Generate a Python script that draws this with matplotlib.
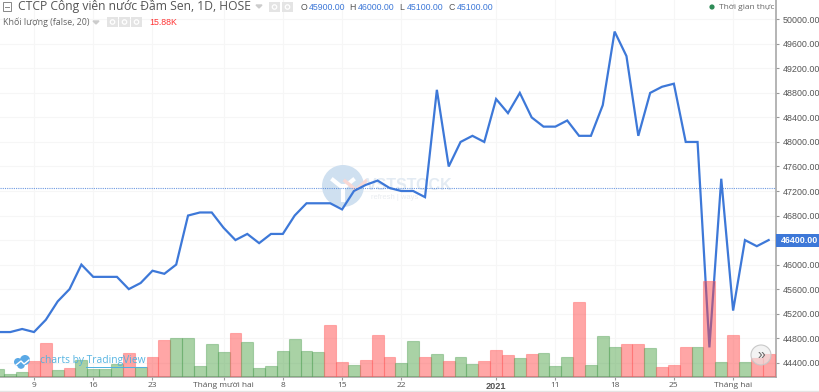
import matplotlib
matplotlib.use("Agg")
import matplotlib.pyplot as plt
from matplotlib.patches import Circle, Rectangle

# ---- data -------------------------------------------------------------
price = [44900, 44900, 44950, 44900, 45100, 45400, 45600, 46000, 45800, 45800, 45800,
         45600, 45700, 45900, 45850, 46000, 46800, 46850, 46850, 46600, 46400, 46500,
         46350, 46500, 46500, 46800, 47000, 47000, 47000, 46900, 47200, 47300, 47370,
         47250, 47200, 47200, 47100, 48850, 47600, 48000, 48100, 48000, 48700, 48470,
         48800, 48400, 48250, 48250, 48350, 48100, 48100, 48600, 49800, 49400, 48100,
         48800, 48900, 48950, 48000, 48000, 44650, 47400, 45250, 46400, 46300, 46400]
volume_k = [5.7, 1.8, 3.4, 10.6, 23.3, 5.0, 6.4, 11.8, 5.4, 5.4, 9.1,
            16.1, 7.1, 13.8, 25.4, 26.7, 26.2, 7.7, 22.6, 17.2, 30.1, 24.0,
            5.9, 7.7, 17.9, 26.0, 17.9, 17.2, 35.5, 10.0, 8.4, 11.8, 28.7,
            13.8, 9.8, 24.2, 13.8, 15.9, 11.1, 13.8, 9.1, 11.1, 18.6, 15.2,
            13.2, 15.9, 16.5, 7.7, 13.8, 51.1, 7.9, 28.1, 20.6, 22.2, 22.2,
            19.9, 7.1, 7.9, 20.6, 20.6, 64.9, 10.0, 28.3, 10.4, 13.2, 15.88]
volume_up = [0, 0, 0, 1, 1, 0, 1, 0, 0, 0, 0,
             1, 0, 1, 1, 0, 0, 0, 0, 0, 1, 0,
             0, 0, 0, 0, 0, 0, 1, 1, 0, 1, 1,
             1, 0, 0, 1, 0, 1, 0, 0, 1, 1, 1,
             0, 1, 0, 0, 0, 1, 0, 0, 0, 1, 1,
             0, 1, 1, 1, 0, 1, 0, 1, 0, 1, 1]
x_tick_index = [3, 8, 13, 19, 24, 29, 34, 42, 47, 52, 57, 62]
x_tick_labels = ["9", "16", "23", "Tháng mười hai", "8", "15", "22", "2021", "11", "18", "25", "Tháng hai"]
price_ticks = [44400, 44800, 45200, 45600, 46000, 46400, 46800, 47200, 47600, 48000,
               48400, 48800, 49200, 49600, 50000]
last_price = 46400
prev_close_line = 47250
title = "CTCP Công viên nước Đầm Sen, 1D, HOSE"
ohlc_names = ["O", "H", "L", "C"]
ohlc_values = ["45900.00", "46000.00", "45100.00", "45100.00"]
volume_title = "Khối lượng (false, 20)"
volume_last = "15.88K"

# ---- layout -----------------------------------------------------------
W, H = 820, 392
PLOT_R, PLOT_B = 776, 377
BLUE = "#3d78d8"
GRID = "#f6f6f6"
TXT = "#555555"
HEAD = "Open Sans"
NUM = "Liberation Sans"

fig = plt.figure(figsize=(W / 100, H / 100), dpi=100, facecolor="white")
rect = [0, 1 - PLOT_B / H, PLOT_R / W, PLOT_B / H]

def px_axes(z):
    a = fig.add_axes([0, 0, 1, 1], zorder=z)
    a.set_xlim(0, W); a.set_ylim(H, 0); a.axis("off")
    a.patch.set_alpha(0)
    return a

xlim = (0.131, 65.62)
ylim = (44167, 50315)
vlim = (0, 255.6)
xs = list(range(len(price)))

# background: grid and watermark
ax_bg = fig.add_axes(rect, zorder=0)
ax_bg.set_xlim(*xlim); ax_bg.set_ylim(*ylim)
ax_bg.set_xticks(x_tick_index); ax_bg.set_yticks(price_ticks)
ax_bg.grid(True, color=GRID, lw=0.8)
ax_bg.tick_params(length=0, labelbottom=False, labelleft=False)
for s in ax_bg.spines.values():
    s.set_visible(False)

ax_wm = px_axes(0.5)
ax_wm.add_patch(Circle((343, 186), 21, fc="#cfe0f0", ec="none"))
ax_wm.plot([333, 343, 353], [180, 188, 180], color="white", lw=3)
ax_wm.plot([343, 343], [186, 200], color="white", lw=3)
ax_wm.plot([345, 356, 366], [181, 190, 181], color="#f8d8d4", lw=2.5)
ax_wm.text(366, 185, "VSTSTOCK", fontsize=11.5, fontweight="bold", color="#e3ebf3",
           family=NUM, va="center", ha="left")
ax_wm.text(371, 197, "refresh | ways", fontsize=5.5, color="#e9ecf0",
           family=NUM, va="center", ha="left")

# price axes
ax = fig.add_axes(rect, zorder=1)
ax.patch.set_alpha(0)
ax.plot(xs, price, color=BLUE, lw=1.6, solid_joinstyle="miter")
ax.axhline(prev_close_line, color=BLUE, lw=0.8, ls=(0, (1, 1)), alpha=0.75)
ax.set_xlim(*xlim); ax.set_ylim(*ylim)
ax.yaxis.tick_right()
ax.set_yticks(price_ticks)
ax.set_yticklabels(["" if v == last_price else f"{v:.2f}" for v in price_ticks],
                   family=NUM, fontsize=6.4, color=TXT)
ax.set_xticks(x_tick_index)
labels = ax.set_xticklabels(x_tick_labels, family=HEAD, fontsize=6.0, color=TXT)
labels[x_tick_labels.index("2021")].set_fontweight("bold")
labels[x_tick_labels.index("2021")].set_family(NUM)
labels[x_tick_labels.index("2021")].set_fontsize(6.6)
ax.tick_params(axis="y", length=2, width=0.8, color="#999999", pad=3)
ax.tick_params(axis="x", length=2, width=0.8, color="#999999", pad=1.5)
for name, s in ax.spines.items():
    s.set_visible(name in ("right", "bottom"))
    s.set_color("#a8a8a8"); s.set_linewidth(1.2)

# volume axes (over the line, translucent)
ax_v = fig.add_axes(rect, zorder=2)
ax_v.patch.set_alpha(0)
ax_v.set_xlim(*xlim); ax_v.set_ylim(*vlim)
ax_v.axis("off")
for x, v, up in zip(xs, volume_k, volume_up):
    fc = (1.0, 0.27, 0.27, 0.48) if up else (0.33, 0.65, 0.30, 0.50)
    ec = (1.0, 0.35, 0.35, 0.40) if up else (0.30, 0.62, 0.32, 0.40)
    ax_v.bar(x, v, width=1.0, facecolor=fc, edgecolor=ec, linewidth=0.8)

# overlays
o = px_axes(3)
# header
o.add_patch(Rectangle((3, 2), 8, 9, fc="none", ec="#888888", lw=0.7))
o.plot([5, 9], [6.5, 6.5], color="#888888", lw=0.7)
o.text(18, 6.5, title, family=HEAD, fontsize=8.75, color="#555555", va="center", ha="left")
o.fill([256, 262, 259], [5, 5, 8], color="#cccccc")
for bx in (269, 282):
    o.add_patch(Rectangle((bx, 2), 11, 10, fc="#e4e4e4", ec="none"))
    o.add_patch(Circle((bx + 5.5, 7), 2.2, fc="none", ec="white", lw=0.9))
for nx, vx, n, v in zip((301, 349, 399, 449), (309, 358, 407, 457), ohlc_names, ohlc_values):
    o.text(nx, 7, n, family=NUM, fontsize=6.3, color=TXT, va="center", ha="left")
    o.text(vx, 7, v, family=NUM, fontsize=6.3, color=BLUE, va="center", ha="left")
o.text(3, 22, volume_title, family=HEAD, fontsize=6.4, color="#666666", va="center", ha="left")
o.fill([93, 99, 96], [21, 21, 24], color="#cccccc")
for bx in (107, 119, 131):
    o.add_patch(Rectangle((bx, 17), 11, 10, fc="#e4e4e4", ec="none"))
    o.add_patch(Circle((bx + 5.5, 22), 2.2, fc="none", ec="white", lw=0.9))
o.text(149, 22, volume_last, family=NUM, fontsize=6.3, color="#ff3333", va="center", ha="left")

# realtime badge
o.add_patch(Circle((712, 7), 2.6, fc="#2e8b57", ec="none"))
o.text(719, 7, "Thời gian thực", family=HEAD, fontsize=6.0, color="#666666", va="center", ha="left")

# last-price label
o.add_patch(Rectangle((776, 233.5), 44, 13, fc=BLUE, ec="none"))
o.text(781, 240.3, f"{last_price:.2f}", family=NUM, fontsize=6.4, fontweight="bold",
       color="white", va="center", ha="left")

# TradingView credit
o.add_patch(Circle((18, 362), 4, fc="#5aa9e6", ec="none"))
o.add_patch(Circle((25, 360), 5, fc="#5aa9e6", ec="none"))
o.add_patch(Circle((21, 365), 3.8, fc="#5aa9e6", ec="none"))
o.plot([16, 21, 24, 29], [365, 361, 364, 360], color="white", lw=1.0)
o.text(40, 361, "charts by TradingView", family=HEAD, fontsize=7.4, color="#4db0e0",
       va="center", ha="left", alpha=0.95)
o.plot([86, 146], [367, 367], color="#4db0e0", lw=0.7)

# scroll button
o.add_patch(Circle((761, 355), 10, fc=(0.92, 0.92, 0.92, 0.6), ec="#c8c8c8", lw=0.8))
o.text(761, 354.5, "»", family=NUM, fontsize=10, color="#666666", va="center", ha="center")

# bottom rule
o.plot([0, W], [390.5, 390.5], color="#e4e4e4", lw=1.0)

fig.savefig("out.png", dpi=100, facecolor="white")
